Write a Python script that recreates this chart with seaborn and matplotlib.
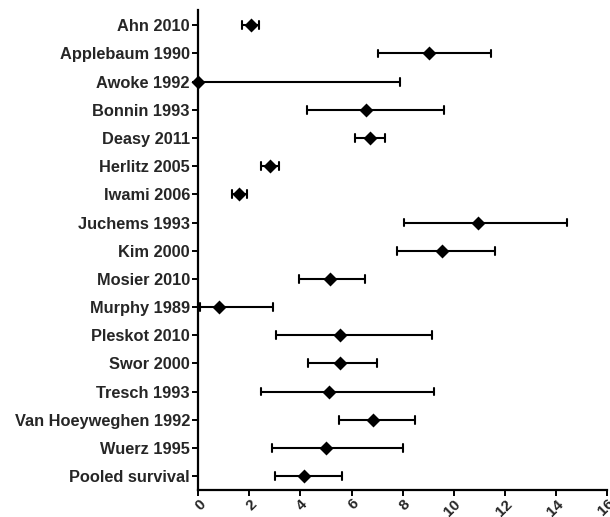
import matplotlib
matplotlib.use("Agg")
import matplotlib.pyplot as plt
import seaborn as sns
import pandas as pd

studies = ["Ahn 2010", "Applebaum 1990", "Awoke 1992", "Bonnin 1993", "Deasy 2011",
           "Herlitz 2005", "Iwami 2006", "Juchems 1993", "Kim 2000", "Mosier 2010",
           "Murphy 1989", "Pleskot 2010", "Swor 2000", "Tresch 1993",
           "Van Hoeyweghen 1992", "Wuerz 1995", "Pooled survival"]
estimate = [2.05, 9.04, 0.0, 6.56, 6.72, 2.79, 1.59, 10.94, 9.56, 5.14,
            0.82, 5.54, 5.54, 5.11, 6.86, 5.01, 4.13]
lower = [1.73, 7.03, 0.0, 4.25, 6.15, 2.44, 1.31, 8.06, 7.77, 3.96,
         0.06, 3.05, 4.29, 2.46, 5.51, 2.88, 3.02]
upper = [2.38, 11.47, 7.89, 9.61, 7.33, 3.16, 1.90, 14.45, 11.61, 6.54,
         2.94, 9.14, 6.98, 9.21, 8.48, 8.00, 5.63]
xticks = [0, 2, 4, 6, 8, 10, 12, 14, 16]

rows = []
for s, lo, e, hi in zip(studies, lower, estimate, upper):
    for v in (lo, e, hi):
        rows.append({"study": s, "value": v})
df = pd.DataFrame(rows)

sns.set_style("ticks")
plt.rcParams["font.family"] = ["Liberation Sans", "DejaVu Sans"]
plt.rcParams["font.weight"] = "bold"

fig = plt.figure(figsize=(6.10, 5.17), dpi=100)
ax = fig.add_axes([0.325, 0.052, 0.670, 0.929])

sns.pointplot(data=df, x="value", y="study", order=studies, orient="h",
              estimator="median", errorbar=lambda v: (v.min(), v.max()),
              color="black", markers="D", markersize=4.8, linestyle="none",
              capsize=0.28, err_kws={"linewidth": 1.5}, ax=ax)

ax.set_xlim(0, 16)
ax.set_ylim(16.5, -0.55)
ax.set_xticks(xticks)
ax.set_xticklabels([str(t) for t in xticks], rotation=45, ha="right",
                   rotation_mode="anchor", fontsize=11, fontweight="bold")
for lab in ax.get_yticklabels():
    lab.set_fontsize(11.8)
    lab.set_fontweight("bold")
ax.set_xlabel("")
ax.set_ylabel("")
for sp in ("top", "right"):
    ax.spines[sp].set_visible(False)
for sp in ("left", "bottom"):
    ax.spines[sp].set_linewidth(1.6)
    ax.spines[sp].set_color("black")
ax.tick_params(axis="both", length=4.5, width=1.4, color="black")
ax.tick_params(axis="y", pad=1.5)
ax.tick_params(axis="x", pad=0.3)
for c in ax.collections:
    c.set_clip_on(False)
for l in ax.lines:
    l.set_clip_on(False)

fig.savefig("out.png", dpi=100)
